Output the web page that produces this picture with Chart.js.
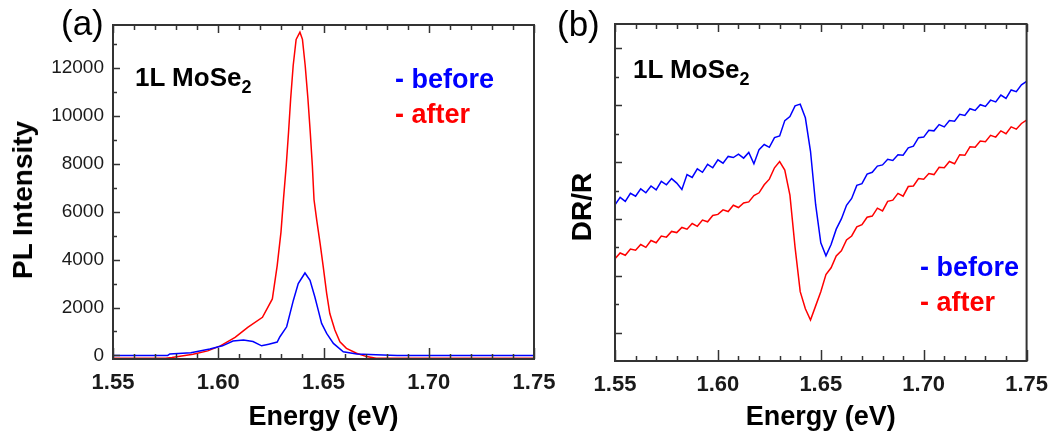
<!DOCTYPE html>
<html>
<head>
<meta charset="utf-8">
<script src="https://cdn.jsdelivr.net/npm/chart.js@4.4.1/dist/chart.umd.min.js"></script>
<style>
    body { margin: 0; background: #fff; }
    #wrap { position: relative; width: 1059px; height: 437px; overflow: hidden; }
    canvas { position: absolute; top: 0; }
    .t { position: absolute; font-family: "Liberation Sans", Arial, sans-serif; line-height: 1; white-space: nowrap; color: #000; }
    .b { font-weight: bold; }
    .rot { transform: translate(-50%, -50%) rotate(-90deg); }
    .sub { font-size: 18px; position: relative; top: 7px; }
</style>
</head>
<body>
<div id="wrap">
    <canvas id="plChart" width="575" height="437" style="left:0"></canvas>
    <canvas id="drChart" width="519" height="437" style="left:540px"></canvas>

    <div class="t" style="left:61px;top:5px;font-size:35px">(a)</div>
    <div class="t" style="left:557px;top:6px;font-size:35px">(b)</div>

    <div class="t b rot" style="left:23px;top:200px;font-size:28px">PL Intensity</div>
    <div class="t b rot" style="left:582px;top:207px;font-size:28px">DR/R</div>

    <div class="t b" style="left:135px;top:64px;font-size:26px">1L MoSe<span class="sub">2</span></div>
    <div class="t b" style="left:633px;top:56px;font-size:26px">1L MoSe<span class="sub">2</span></div>

    <div class="t b" style="left:395px;top:66px;font-size:27px;color:#0000ff">- before</div>
    <div class="t b" style="left:395px;top:101px;font-size:27px;color:#ff0000">- after</div>
    <div class="t b" style="left:920px;top:254px;font-size:27px;color:#0000ff">- before</div>
    <div class="t b" style="left:920px;top:289px;font-size:27px;color:#ff0000">- after</div>
</div>

<script>
// ---- data (a): PL spectra
const energyBefore = [1.550, 1.576, 1.577, 1.587, 1.596, 1.602, 1.607, 1.612, 1.6165, 1.6206,
    1.624, 1.628, 1.6293, 1.6325, 1.6357, 1.638, 1.6412, 1.6436, 1.6459, 1.6475,
    1.6491, 1.6515, 1.6547, 1.6594, 1.6658, 1.675, 1.685, 1.750];
const plBefore = [0, 0, 60, 110, 270, 400, 600, 640, 580, 400,
    470, 560, 780, 1195, 2307, 3000, 3443, 3140, 2440, 1890,
    1335, 920, 500, 150, 55, 30, 0, 0];

const energyAfter = [1.550, 1.575, 1.578, 1.588, 1.595, 1.601, 1.608, 1.611, 1.614, 1.621,
    1.6257, 1.628, 1.6298, 1.631, 1.6323, 1.6334, 1.6344, 1.6356, 1.637, 1.6388,
    1.640, 1.6413, 1.6426, 1.6437, 1.6447, 1.6455, 1.6468, 1.6484, 1.6499, 1.6515,
    1.653, 1.6554, 1.6578, 1.6609, 1.6657, 1.6705, 1.675, 1.750];
const plAfter = [-120, -120, -90, 50, 190, 400, 750, 960, 1170, 1590,
    2360, 3750, 5150, 6540, 7930, 9330, 10720, 12110, 13200, 13500,
    13200, 12110, 10720, 9330, 7930, 6500, 5640, 4670, 3690, 2590,
    1750, 1060, 570, 295, 90, -50, -120, -120];

// ---- data (b): differential reflectance, 1.550 .. 1.750 in 0.0025 eV steps
const energyDR = [1.5500, 1.5525, 1.5550, 1.5575, 1.5600, 1.5625, 1.5650, 1.5675, 1.5700, 1.5725,
    1.5750, 1.5775, 1.5800, 1.5825, 1.5850, 1.5875, 1.5900, 1.5925, 1.5950, 1.5975,
    1.6000, 1.6025, 1.6050, 1.6075, 1.6100, 1.6125, 1.6150, 1.6175, 1.6200, 1.6225,
    1.6250, 1.6275, 1.6300, 1.6325, 1.6350, 1.6375, 1.6400, 1.6425, 1.6450, 1.6475,
    1.6500, 1.6525, 1.6550, 1.6575, 1.6600, 1.6625, 1.6650, 1.6675, 1.6700, 1.6725,
    1.6750, 1.6775, 1.6800, 1.6825, 1.6850, 1.6875, 1.6900, 1.6925, 1.6950, 1.6975,
    1.7000, 1.7025, 1.7050, 1.7075, 1.7100, 1.7125, 1.7150, 1.7175, 1.7200, 1.7225,
    1.7250, 1.7275, 1.7300, 1.7325, 1.7350, 1.7375, 1.7400, 1.7425, 1.7450, 1.7475,
    1.7500];
const drBefore = [2.25, 2.38, 2.31, 2.45, 2.40, 2.53, 2.46, 2.58, 2.51, 2.66,
    2.60, 2.71, 2.63, 2.52, 2.78, 2.73, 2.88, 2.82, 2.96, 2.90,
    3.04, 2.98, 3.10, 3.08, 3.14, 3.07, 3.17, 2.97, 3.22, 3.31,
    3.26, 3.43, 3.46, 3.73, 3.80, 3.99, 4.02, 3.78, 3.19, 2.25,
    1.58, 1.35, 1.55, 1.82, 2.00, 2.24, 2.36, 2.59, 2.62, 2.79,
    2.82, 2.93, 2.95, 3.05, 3.03, 3.13, 3.12, 3.25, 3.28, 3.43,
    3.44, 3.56, 3.55, 3.66, 3.62, 3.73, 3.72, 3.84, 3.82, 3.94,
    3.91, 4.01, 3.98, 4.09, 4.06, 4.18, 4.12, 4.27, 4.24, 4.36,
    4.42];
const drAfter = [1.30, 1.40, 1.36, 1.47, 1.45, 1.55, 1.50, 1.62, 1.58, 1.70,
    1.68, 1.78, 1.76, 1.85, 1.82, 1.92, 1.87, 1.98, 1.95, 2.06,
    2.08, 2.16, 2.13, 2.24, 2.20, 2.28, 2.30, 2.41, 2.46, 2.60,
    2.70, 2.90, 3.01, 2.86, 2.42, 1.50, 0.72, 0.42, 0.22, 0.47,
    0.72, 1.02, 1.14, 1.35, 1.44, 1.63, 1.70, 1.86, 1.90, 2.03,
    2.05, 2.19, 2.14, 2.31, 2.33, 2.45, 2.40, 2.57, 2.58, 2.71,
    2.70, 2.80, 2.78, 2.91, 2.90, 3.01, 2.97, 3.13, 3.12, 3.27,
    3.26, 3.37, 3.36, 3.47, 3.44, 3.55, 3.50, 3.62, 3.58, 3.68,
    3.74];

// ---- tick labels
const xTicks = [1.55, 1.60, 1.65, 1.70, 1.75];
const plTicks = [0, 2000, 4000, 6000, 8000, 10000, 12000];
const drTicks = [0, 1, 2, 3, 4, 5];

const FONT = "'Liberation Sans', Arial, sans-serif";

function pairs(xs, ys) {
    return xs.map((x, i) => ({x: x, y: ys[i]}));
}

function dataSet(label, col, data) {
    return {
        label: label,
        data: data,
        borderColor: col,
        backgroundColor: col,
        borderWidth: 1.5,
        pointRadius: 0,
        showLine: true,
        tension: 0
    }
}

// frame + inward ticks, positions come from the chart scales
const frameTicks = {
    id: 'frameTicks',
    afterDatasetsDraw(chart, args, opts) {
        const {ctx, chartArea: a, scales: {x, y}} = chart;
        const seg = (x1, y1, x2, y2) => {
            ctx.beginPath();
            ctx.moveTo(x1, y1);
            ctx.lineTo(x2, y2);
            ctx.stroke();
        };
        ctx.save();
        ctx.strokeStyle = '#333';
        ctx.lineWidth = 1.5;
        for (let k = 0; k <= 20; k++) {
            const px = Math.round(x.getPixelForValue(1.55 + k * 0.01)) + 0.5;
            const major = k % 5 === 0;
            seg(px, a.bottom, px, a.bottom - (major ? 11 : 5));
            seg(px, a.top, px, a.top + (major ? 8 : 5));
        }
        const maj = opts.yMajor;
        const step = maj[1] - maj[0];
        for (let i = -1; i < maj.length; i++) {
            const v = (i < 0 ? maj[0] : maj[i]);
            if (i >= 0) {
                const py = Math.round(y.getPixelForValue(v)) + 0.5;
                seg(a.left, py, a.left + 7, py);
            }
            const mv = (i < 0 ? maj[0] - step / 2 : maj[i] + step / 2);
            if (mv > y.min && mv < y.max) {
                const py = Math.round(y.getPixelForValue(mv)) + 0.5;
                seg(a.left, py, a.left + 4, py);
            }
        }
        ctx.lineWidth = 2;
        ctx.strokeRect(a.left, a.top, a.right - a.left, a.bottom - a.top);
        ctx.restore();
    }
};

function energyAxis(h) {
    return {
        type: 'linear',
        min: 1.55,
        max: 1.75,
        afterBuildTicks: s => { s.ticks = xTicks.map(v => ({value: v})) },
        afterFit: s => { s.height = h },
        grid: {display: false, drawTicks: false},
        border: {display: false},
        ticks: {
            padding: 11,
            color: '#1a1a1a',
            autoSkip: false,
            maxRotation: 0,
            font: {family: FONT, size: 22, weight: 'bold'},
            callback: v => v.toFixed(2)
        },
        title: {
            display: true,
            text: 'Energy (eV)',
            color: '#000',
            font: {family: FONT, size: 27, weight: 'bold'},
            padding: {top: 0, bottom: 3}
        }
    }
}

function chartWithTag(tag, datasets, scales, padding, yMajor) {
    return new Chart(document.getElementById(tag).getContext('2d'), {
        type: 'scatter',
        data: {datasets: datasets},
        options: {
            responsive: false,
            animation: false,
            layout: {padding: padding},
            scales: scales,
            plugins: {
                legend: {display: false},
                tooltip: {enabled: false},
                frameTicks: {yMajor: yMajor}
            }
        },
        plugins: [frameTicks]
    });
}

chartWithTag('plChart',
    [
        dataSet('before', '#0000ff', pairs(energyBefore, plBefore)),
        dataSet('after', '#ff0000', pairs(energyAfter, plAfter))
    ],
    {
        x: energyAxis(78),
        y: {
            type: 'linear',
            min: -150,
            max: 13800,
            afterBuildTicks: s => { s.ticks = plTicks.map(v => ({value: v})) },
            afterFit: s => { s.width = 113 },
            grid: {display: false, drawTicks: false},
            border: {display: false},
            ticks: {
                padding: 9,
                color: '#1a1a1a',
                font: {family: FONT, size: 19},
                callback: v => String(v)
            }
        }
    },
    {left: 0, right: 41, top: 25, bottom: 0},
    plTicks
);

chartWithTag('drChart',
    [
        dataSet('before', '#0000ff', pairs(energyDR, drBefore)),
        dataSet('after', '#ff0000', pairs(energyDR, drAfter))
    ],
    {
        x: energyAxis(76),
        y: {
            type: 'linear',
            min: -0.5,
            max: 5.43,
            afterFit: s => { s.width = 75 },
            grid: {display: false, drawTicks: false},
            border: {display: false},
            ticks: {display: false}
        }
    },
    {left: 0, right: 26, top: 24, bottom: 0},
    drTicks
);
</script>
</body>
</html>
